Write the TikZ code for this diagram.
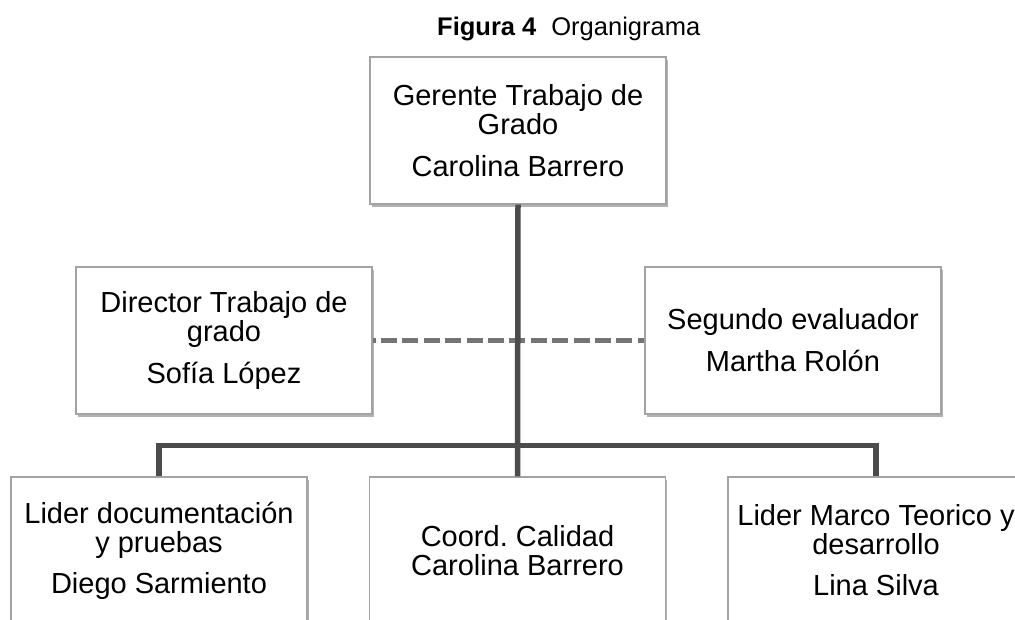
\documentclass[tikz,border=0pt]{standalone}
\usepackage{fontspec}
\setmainfont{Liberation Sans}
\usetikzlibrary{shadows}
\definecolor{linea}{HTML}{4B4B4B}
\definecolor{punteada}{HTML}{747474}
\definecolor{borde}{HTML}{A3A3A3}
\frenchspacing

\begin{document}
\begin{tikzpicture}[x=1pt, y=-1pt,
	caja/.style = {draw=borde, line width=1.2pt, fill=white,
		minimum width=296pt, minimum height=147pt, inner sep=0pt, align=center,
		font=\fontsize{29pt}{29pt}\selectfont,
		drop shadow={shadow xshift=1.5pt, shadow yshift=-3pt, opacity=.3, fill=black}},
	rama/.style = {draw=linea, line width=5.5pt},
	enlace/.style = {draw=punteada, line width=5pt, dash pattern=on 16pt off 5.4pt, dash phase=13pt}]
	\useasboundingbox (0,0) rectangle (1015,619);
	\clip (0,0) rectangle (1015,619);
	%title
	\node[anchor=base west, inner sep=0pt, font=\fontsize{25.5pt}{25.5pt}\selectfont] (titulo) at (437,35)
		{\textbf{Figura 4}\hspace{15pt}Organigrama};
	%boxes
	\node[caja] (gerente) at (518,130.5) {Gerente Trabajo de\\Grado\\[13pt]Carolina Barrero};
	\node[caja] (director) at (224,340.5) {Director Trabajo de\\grado\\[13pt]Sofía López};
	\node[caja] (segundo) at (793,340.5) {Segundo evaluador\\[13pt]Martha Rolón};
	\node[caja] (documentacion) at (159,550.5) {Lider documentación\\y pruebas\\[12pt]Diego Sarmiento};
	\node[caja] (calidad) at (517.5,550.5) {Coord. Calidad\\Carolina Barrero};
	\node[caja] (marco) at (876,550.5) {Lider Marco Teorico y\\desarrollo\\[12pt]Lina Silva};
	%lines
	\coordinate (union) at (518,445.5);
	\draw[enlace] (director.east) -- (segundo.west);
	\draw[rama] (gerente.south) -- (calidad.north);
	\draw[rama] (documentacion.north) |- (union) -| (marco.north);
\end{tikzpicture}
\end{document}
